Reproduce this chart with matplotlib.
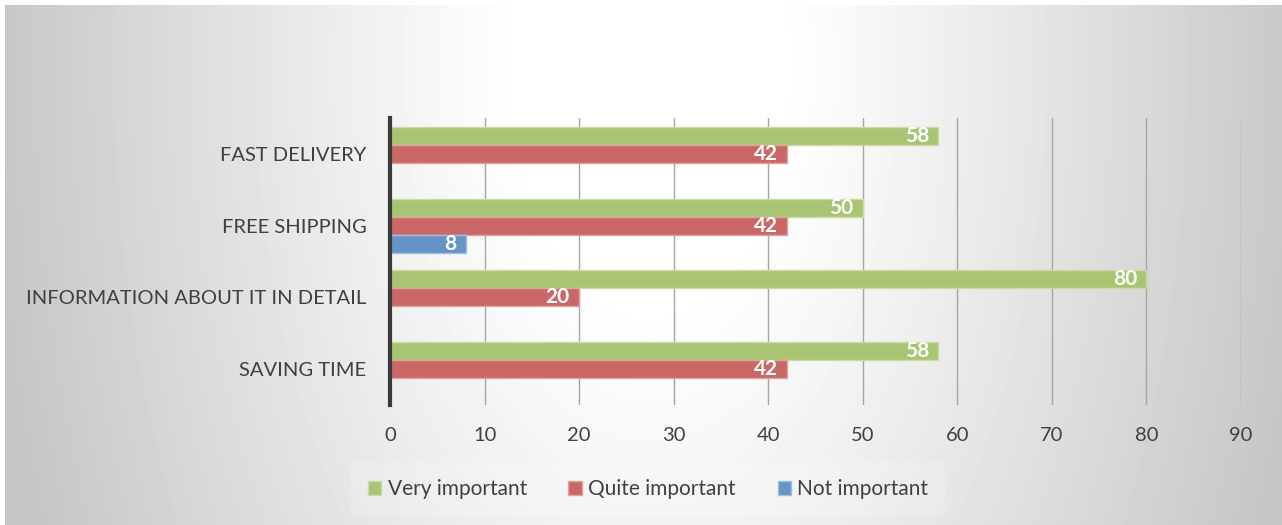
"""
Horizontal grouped bar chart: importance of online shopping factors
"""
import numpy as np
import matplotlib
matplotlib.use("Agg")
import matplotlib.pyplot as plt

categories = ["FAST DELIVERY", "FREE SHIPPING", "INFORMATION ABOUT IT IN DETAIL", "SAVING TIME"]
series_names = ["Very important", "Quite important", "Not important"]
very_important = [58, 50, 80, 58]
quite_important = [42, 42, 20, 42]
not_important = [0, 8, 0, 0]
x_ticks = [0, 10, 20, 30, 40, 50, 60, 70, 80, 90]

colors = ["#A9C574", "#C96866", "#6694C6"]
edge_colors = ["#C9DCA6", "#E0A3A1", "#A3BFDF"]
text_color = "#404040"

plt.rcParams['font.family'] = ['Lato', 'DejaVu Sans']

W, H = 1282, 525
fig = plt.figure(figsize=(W / 100, H / 100), dpi=100)
fig.patch.set_facecolor("white")

# gradient background (white centre, grey sides)
bg = fig.add_axes([5 / W, 0, 1 - 5 / W, 1 - 5 / H])
yy, xx = np.mgrid[0:520, 0:1277]
dx = np.abs(xx - 645) / 640.0
dy = (yy - 60) / 520.0
d = np.sqrt(dx ** 2 + (0.45 * dy) ** 2)
shade = 1 - 0.23 * np.clip((d - 0.2) / 0.85, 0, 1) ** 1.1
bg.imshow(shade, cmap="gray", vmin=0, vmax=1, aspect="auto", interpolation="bilinear")
bg.axis("off")

# main axes
left, right, top, bottom = 390, 1241, 118, 405
ax = fig.add_axes([left / W, 1 - bottom / H, (right - left) / W, (bottom - top) / H])
ax.patch.set_alpha(0)

y = np.arange(len(categories))
bar_h = 0.25
all_series = [very_important, quite_important, not_important]
for i, vals in enumerate(all_series):
    pos = y + (i - 1) * bar_h
    bars = ax.barh(pos, vals, height=bar_h, color=colors[i], edgecolor=edge_colors[i],
                   linewidth=1, label=series_names[i], zorder=2)
    for b, v in zip(bars, vals):
        if v > 0:
            ax.text(v - 1.0, b.get_y() + b.get_height() / 2, str(v), color="white",
                    fontsize=15, fontweight="bold", ha="right", va="center", zorder=3)

ax.set_xlim(0, 90)
ax.set_ylim(len(categories) - 0.5, -0.5)
ax.set_xticks(x_ticks)
ax.set_yticks(y)
ax.set_yticklabels(categories)
ax.xaxis.grid(True, color="#A6A6A6", linewidth=1, zorder=0)
ax.set_axisbelow(True)
ax.tick_params(axis="x", length=0, pad=16, labelsize=14.5, labelcolor=text_color)
ax.tick_params(axis="y", length=0, pad=17, labelsize=14.5, labelcolor=text_color)
for s in ["top", "right", "bottom"]:
    ax.spines[s].set_visible(False)
ax.spines["left"].set_color("#3A3A3A")
ax.spines["left"].set_linewidth(3)
ax.spines["left"].set_zorder(4)

leg = fig.legend(loc="center", bbox_to_anchor=(648 / W, 1 - 489 / H), ncol=3,
                 fontsize=15, frameon=True, handlelength=0.65, handleheight=0.65,
                 handletextpad=0.3, columnspacing=2.0, borderpad=0.8)
leg.get_frame().set_facecolor("white")
leg.get_frame().set_alpha(0.18)
leg.get_frame().set_edgecolor("none")
for t in leg.get_texts():
    t.set_color(text_color)

plt.savefig("out.png", dpi=100)
plt.close()
